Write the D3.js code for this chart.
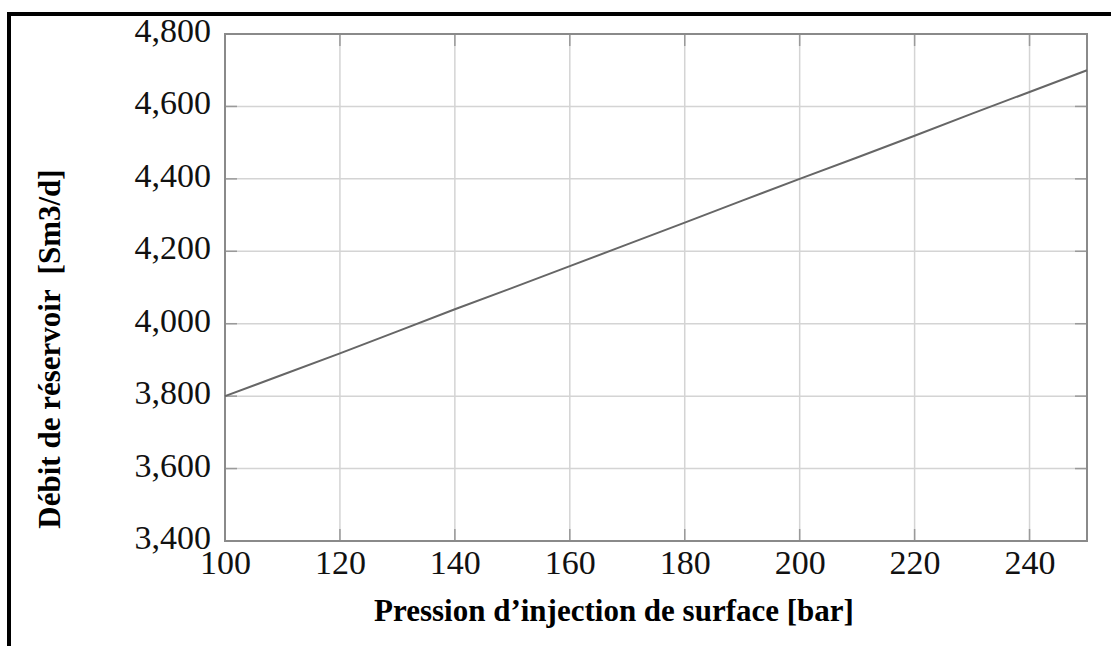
<!DOCTYPE html>
<html>
<head>
<meta charset="utf-8">
<script src="https://cdn.jsdelivr.net/npm/d3@7"></script>
<style>
	body { margin: 0; background: #fff; }
	svg { display: block; }
</style>
</head>
<body>
<div id="graphic"></div>
<script>

// pression d'injection [bar] / débit [Sm3/d]
const pression = [ 100, 110, 120, 130, 140, 150, 160, 170, 180, 190, 200, 210, 220, 230, 240, 250 ];
const debit    = [ 3800, 3859, 3918, 3979, 4040, 4099, 4159, 4219, 4279, 4340, 4400, 4459, 4519, 4580, 4640, 4700 ];

const xTicks = [ 100, 120, 140, 160, 180, 200, 220, 240 ];
const yTicks = [ 3400, 3600, 3800, 4000, 4200, 4400, 4600, 4800 ];

const xLabel = "Pression d\u2019injection de surface [bar]";
const yLabel = "Débit de réservoir  [Sm3/d]";

///////////////////////////////////////////////////////////////////////

const width = 1111, height = 646;
const plot = { left: 225, right: 1087, top: 34, bottom: 541 };

let svg = d3.select( "#graphic" )
	.append( "svg" )
		.attr( "width", width )
		.attr( "height", height );

// outer frame (top + left only visible)
svg.append( "path" )
	.attr( "d", `M9,${height} L9,14 L${width},14` )
	.attr( "fill", "none" )
	.attr( "stroke", "#000" )
	.attr( "stroke-width", 4 );

let x = d3.scaleLinear().domain( [ 100, 250 ] ).range( [ plot.left, plot.right ] );
let y = d3.scaleLinear().domain( [ 3400, 4800 ] ).range( [ plot.bottom, plot.top ] );

// grid
let grid = svg.append( "g" ).attr( "stroke", "#d4d4d4" ).attr( "stroke-width", 1.5 );
grid.selectAll( "line.gx" )
	.data( xTicks.slice( 1 ) )
	.join( "line" )
		.attr( "x1", d => x( d ) ).attr( "x2", d => x( d ) )
		.attr( "y1", plot.top ).attr( "y2", plot.bottom );
grid.selectAll( "line.gy" )
	.data( yTicks.slice( 1, -1 ) )
	.join( "line" )
		.attr( "class", "gy" )
		.attr( "x1", plot.left ).attr( "x2", plot.right )
		.attr( "y1", d => y( d ) ).attr( "y2", d => y( d ) );

// inner tick marks on all four sides
let tk = svg.append( "g" ).attr( "stroke", "#9a9a9a" ).attr( "stroke-width", 1.5 );
xTicks.forEach( d => {
	tk.append( "line" ).attr( "x1", x( d ) ).attr( "x2", x( d ) ).attr( "y1", plot.bottom ).attr( "y2", plot.bottom - 12 );
	tk.append( "line" ).attr( "x1", x( d ) ).attr( "x2", x( d ) ).attr( "y1", plot.top ).attr( "y2", plot.top + 12 );
} );
yTicks.forEach( d => {
	tk.append( "line" ).attr( "x1", plot.left ).attr( "x2", plot.left + 12 ).attr( "y1", y( d ) ).attr( "y2", y( d ) );
	tk.append( "line" ).attr( "x1", plot.right ).attr( "x2", plot.right - 12 ).attr( "y1", y( d ) ).attr( "y2", y( d ) );
} );

// axes (labels only)
let xAxis = svg.append( "g" )
	.attr( "transform", `translate(0,${plot.bottom})` )
	.call( d3.axisBottom( x ).tickValues( xTicks ).tickSize( 0 ).tickPadding( 9 ) );
let yAxis = svg.append( "g" )
	.attr( "transform", `translate(${plot.left},0)` )
	.call( d3.axisLeft( y ).tickValues( yTicks ).tickFormat( d3.format( "," ) ).tickSize( 0 ).tickPadding( 14 ) );

[ xAxis, yAxis ].forEach( a => {
	a.select( ".domain" ).remove();
	a.selectAll( "text" )
		.attr( "fill", "#111" )
		.style( "font-family", "'Liberation Serif', serif" )
		.style( "font-size", "34px" );
} );
yAxis.selectAll( "text" ).attr( "dy", "0.22em" );

// frame
svg.append( "rect" )
	.attr( "x", plot.left ).attr( "y", plot.top )
	.attr( "width", plot.right - plot.left ).attr( "height", plot.bottom - plot.top )
	.attr( "fill", "none" )
	.attr( "stroke", "#8a8a8a" )
	.attr( "stroke-width", 2 );

// series
svg.append( "path" )
	.datum( d3.zip( pression, debit ) )
	.attr( "fill", "none" )
	.attr( "stroke", "#666" )
	.attr( "stroke-width", 2 )
	.attr( "d", d3.line().x( d => x( d[0] ) ).y( d => y( d[1] ) ) );

// axis titles
svg.append( "text" )
	.attr( "x", 614 ).attr( "y", 621 )
	.attr( "text-anchor", "middle" )
	.style( "font-family", "'Liberation Serif', serif" )
	.style( "font-weight", "bold" )
	.style( "font-size", "31px" )
	.text( xLabel );

svg.append( "text" )
	.attr( "transform", "translate(60,349) rotate(-90)" )
	.attr( "text-anchor", "middle" )
	.style( "font-family", "'Liberation Serif', serif" )
	.style( "font-weight", "bold" )
	.style( "font-size", "31px" )
	.style( "white-space", "pre" )
	.text( yLabel );

</script>
</body>
</html>
